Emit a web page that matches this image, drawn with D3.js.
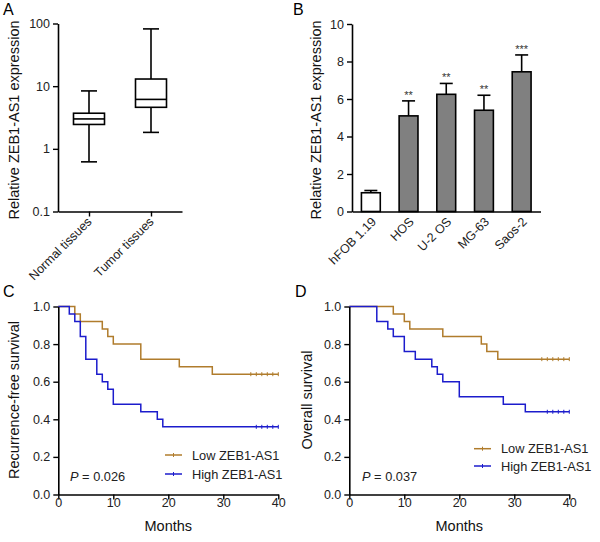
<!DOCTYPE html>
<html><head><meta charset="utf-8">
<script src="https://cdn.jsdelivr.net/npm/d3@7"></script>
<style>
body{margin:0;background:#fff;}
text{font-family:"Liberation Sans",Arial,sans-serif;}
</style></head>
<body><svg id="c" width="600" height="542"></svg>
<script>
// ---- Panel A data (box plot, log scale)
const groupsA = ["Normal tissues","Tumor tissues"];
const boxMin = [0.62, 1.83];
const boxQ1 = [2.45, 4.6];
const boxMed = [3.0, 6.15];
const boxQ3 = [3.7, 13];
const boxMax = [8.4, 82];
const ticksA = [0.1, 1, 10, 100];

// ---- Panel B data (bars)
const cellLines = ["hFOB 1.19","HOS","U-2 OS","MG-63","Saos-2"];
const barMeans = [1.0, 5.1, 6.25, 5.4, 7.45];
const barErr = [0.12, 0.8, 0.58, 0.8, 0.9];
const barStars = ["", "**", "**", "**", "***"];
const ticksB = [0,2,4,6,8,10];

// ---- Panel C data (recurrence-free survival)
const rfsLow = [[0,1],[3,0.96],[4,0.92],[8,0.88],[9,0.84],[10,0.80],[15,0.72],[22,0.68],[28,0.64]];
const rfsLowCens = [35,36,37,38,39,40];
const rfsHigh = [[0,1],[2,0.96],[3,0.92],[4,0.84],[5,0.72],[7,0.64],[8,0.60],[9,0.56],[10,0.48],[15,0.44],[18,0.40],[19,0.36]];
const rfsHighCens = [36,37,38,39,40];

// ---- Panel D data (overall survival)
const osLow = [[0,1],[8,0.96],[10,0.92],[11,0.88],[17,0.84],[24,0.80],[25,0.76],[27,0.72]];
const osLowCens = [35,36,37,38,39,40];
const osHigh = [[0,1],[5,0.92],[7,0.88],[8,0.84],[10,0.76],[12,0.72],[15,0.68],[16,0.64],[17,0.60],[20,0.52],[28,0.48],[32,0.44]];
const osHighCens = [36,37,38,39,40];

const ticksKMx = [0,10,20,30,40];
const ticksKMy = [0,0.2,0.4,0.6,0.8,1.0];
const legendLabels = ["Low ZEB1-AS1","High ZEB1-AS1"];
const colLow = "#b07c2c", colHigh = "#1c1ccc";

const svg = d3.select("#c");
const TF = 12.5, TITLE = 14.5;

function styleAxis(g){
  g.select(".domain").attr("stroke","#000").attr("stroke-width",1.6);
  g.selectAll(".tick line").attr("stroke","#000").attr("stroke-width",1.4);
  g.selectAll(".tick text").attr("fill","#222").style("font-size",TF+"px").style("font-family","'Liberation Sans',Arial,sans-serif");
}
function panelLabel(t,x,y){ svg.append("text").attr("x",x).attr("y",y).attr("font-size",16).attr("fill","#000").text(t); }
function yTitle(t,x,y){ svg.append("text").attr("transform",`translate(${x},${y}) rotate(-90)`).attr("text-anchor","middle").attr("font-size",TITLE).attr("fill","#111").text(t); }

// ================= Panel A
{
  const y = d3.scaleLog().domain([0.1,100]).range([211.5,23.5]);
  const x = d3.scalePoint().domain(groupsA).range([58,182]).padding(0.5);
  const gy = svg.append("g").attr("transform","translate(58,0)")
    .call(d3.axisLeft(y).tickValues(ticksA).tickFormat(d3.format("~g")).tickSize(5).tickSizeOuter(0));
  styleAxis(gy);
  const gx = svg.append("g").attr("transform","translate(0,211.5)")
    .call(d3.axisBottom(x).tickSize(5).tickSizeOuter(0));
  styleAxis(gx);
  gx.selectAll(".tick text").attr("text-anchor","end").attr("dy",0).attr("y",0)
    .attr("transform","translate(3,11) rotate(-45)");
  const bw = 31, cw = 16;
  groupsA.forEach((g,i)=>{
    const cx = x(g);
    const G = svg.append("g").attr("stroke","#000").attr("stroke-width",1.6).attr("fill","none");
    G.append("line").attr("x1",cx).attr("x2",cx).attr("y1",y(boxMax[i])).attr("y2",y(boxQ3[i]));
    G.append("line").attr("x1",cx).attr("x2",cx).attr("y1",y(boxQ1[i])).attr("y2",y(boxMin[i]));
    G.append("line").attr("x1",cx-cw/2).attr("x2",cx+cw/2).attr("y1",y(boxMax[i])).attr("y2",y(boxMax[i]));
    G.append("line").attr("x1",cx-cw/2).attr("x2",cx+cw/2).attr("y1",y(boxMin[i])).attr("y2",y(boxMin[i]));
    G.append("rect").attr("x",cx-bw/2).attr("width",bw).attr("y",y(boxQ3[i])).attr("height",y(boxQ1[i])-y(boxQ3[i])).attr("fill","#fff");
    G.append("line").attr("x1",cx-bw/2).attr("x2",cx+bw/2).attr("y1",y(boxMed[i])).attr("y2",y(boxMed[i]));
  });
  yTitle("Relative ZEB1-AS1 expression",19,120);
  panelLabel("A",3,15);
}

// ================= Panel B
{
  const y = d3.scaleLinear().domain([0,10]).range([211.5,24]);
  const x = d3.scaleBand().domain(cellLines).range([352,540.5]).paddingInner(0.5).paddingOuter(0.25);
  cellLines.forEach((c,i)=>{
    const cx = x(c)+x.bandwidth()/2;
    const top = y(barMeans[i]+barErr[i]);
    svg.append("line").attr("x1",cx).attr("x2",cx).attr("y1",y(barMeans[i])).attr("y2",top).attr("stroke","#000").attr("stroke-width",1.6);
    svg.append("line").attr("x1",cx-6.5).attr("x2",cx+6.5).attr("y1",top).attr("y2",top).attr("stroke","#000").attr("stroke-width",1.6);
    svg.append("rect").attr("x",x(c)).attr("width",x.bandwidth()).attr("y",y(barMeans[i])).attr("height",y(0)-y(barMeans[i]))
      .attr("fill", i===0 ? "#fff" : "#808080").attr("stroke","#000").attr("stroke-width",1.6);
    if(barStars[i]) svg.append("text").attr("x",cx).attr("y",top-2).attr("text-anchor","middle").attr("font-size",11).attr("fill","#333").text(barStars[i]);
  });
  const gy = svg.append("g").attr("transform","translate(352,0)")
    .call(d3.axisLeft(y).tickValues(ticksB).tickSize(5).tickSizeOuter(0));
  styleAxis(gy);
  const gx = svg.append("g").attr("transform","translate(0,211.5)")
    .call(d3.axisBottom(x).tickSize(0).tickSizeOuter(0));
  styleAxis(gx);
  gx.selectAll(".tick text").attr("text-anchor","end").attr("dy",0).attr("y",0)
    .attr("transform","translate(6,11) rotate(-45)");
  yTitle("Relative ZEB1-AS1 expression",321,120);
  panelLabel("B",293,15);
}

// ================= KM panels
function kmPanel(opt){
  const x = d3.scaleLinear().domain([0,40]).range([opt.x0,opt.x0+220]);
  const y = d3.scaleLinear().domain([0,1]).range([494.5,306.5]);
  const line = d3.line().x(d=>x(d[0])).y(d=>y(d[1])).curve(d3.curveStepAfter);
  const series = [[opt.low,opt.lowC,colLow],[opt.high,opt.highC,colHigh]];
  series.forEach(([pts,cens,col])=>{
    const last = pts[pts.length-1];
    const full = pts.concat([[40,last[1]]]);
    svg.append("path").attr("d",line(full)).attr("fill","none").attr("stroke",col).attr("stroke-width",1.5);
    svg.append("g").selectAll("line").data(cens).join("line")
      .attr("x1",d=>x(d)).attr("x2",d=>x(d)).attr("y1",y(last[1])-2).attr("y2",y(last[1])+2)
      .attr("stroke",col).attr("stroke-width",1);
  });
  const gy = svg.append("g").attr("transform",`translate(${opt.x0},0)`)
    .call(d3.axisLeft(y).tickValues(ticksKMy).tickFormat(d3.format(".1f")).tickSize(5).tickSizeOuter(0));
  styleAxis(gy);
  const gx = svg.append("g").attr("transform","translate(0,494.5)")
    .call(d3.axisBottom(x).tickValues(ticksKMx).tickSize(5).tickSizeOuter(0));
  styleAxis(gx);
  gx.selectAll(".tick text").attr("dy","0.62em").attr("y",5);
  svg.append("text").attr("x",opt.x0+110).attr("y",531).attr("text-anchor","middle").attr("font-size",TITLE).attr("fill","#111").text("Months");
  yTitle(opt.title,opt.tx,400);
  // legend
  [colLow,colHigh].forEach((col,i)=>{
    const ly = opt.ly[i];
    svg.append("line").attr("x1",opt.lx).attr("x2",opt.lx+17).attr("y1",ly).attr("y2",ly).attr("stroke",col).attr("stroke-width",1.5);
    svg.append("line").attr("x1",opt.lx+8.5).attr("x2",opt.lx+8.5).attr("y1",ly-2).attr("y2",ly+2).attr("stroke",col).attr("stroke-width",1);
    svg.append("text").attr("x",opt.lx+27).attr("y",ly+4.5).attr("font-size",12.8).attr("fill","#222").text(legendLabels[i]);
  });
  const pt = svg.append("text").attr("x",opt.px).attr("y",481).attr("font-size",12.8).attr("fill","#222");
  pt.append("tspan").attr("font-style","italic").text("P");
  pt.append("tspan").text(" = "+opt.p);
  panelLabel(opt.label,opt.labx,297);
}
kmPanel({x0:58.3,low:rfsLow,lowC:rfsLowCens,high:rfsHigh,highC:rfsHighCens,title:"Recurrence-free survival",tx:19,
  lx:165,ly:[455,474],px:70,p:"0.026",label:"C",labx:3});
kmPanel({x0:349.3,low:osLow,lowC:osLowCens,high:osHigh,highC:osHighCens,title:"Overall survival",tx:312,
  lx:474,ly:[448.7,466],px:362,p:"0.037",label:"D",labx:295});
</script></body></html>
